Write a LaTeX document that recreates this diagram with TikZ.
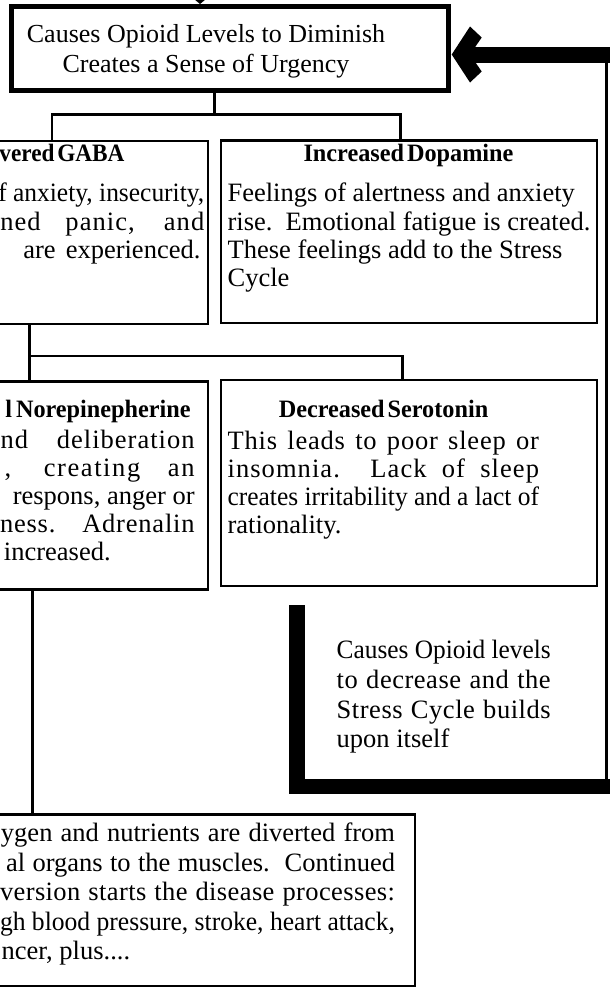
\documentclass[tikz,border=0pt]{standalone}
\usepackage{fontspec}
\setmainfont{Liberation Serif}
\usepackage{graphicx}
\newdimen\fitwd
\newcommand\fitline[2]{\setbox0\hbox{#2}\fitwd=\wd0\relax
  \ifdim\fitwd>#1\relax
    \pgfmathsetmacro\fitfac{#1/\fitwd}\scalebox{\fitfac}[1]{#2}%
  \else\makebox[#1][s]{#2}\fi}
\newcommand\condense[2]{\scalebox{#1}[1]{#2}}
\tikzset{
  tbox/.style={draw, line width=2.6pt, outer sep=0pt, inner sep=0pt},
  topbox/.style={draw, line width=5pt, outer sep=0pt, inner sep=0pt},
  conn/.style={line width=2.6pt},
  heavy/.style={line width=16pt},
  body/.style={inner sep=0pt, outer sep=0pt, font=\fontsize{26.5}{30}\selectfont},
  lsbody/.style={inner sep=0pt, outer sep=0pt, font=\fontsize{26.5}{30}\selectfont\addfontfeatures{LetterSpace=#1}},
  toptext/.style={inner sep=0pt, outer sep=0pt, font=\fontsize{26}{30}\selectfont},
  head/.style={inner sep=0pt, outer sep=0pt, font=\bfseries\fontsize{25}{30}\selectfont},
}
\begin{document}
\begin{tikzpicture}[x=1pt,y=-1pt]
\path[use as bounding box] (0,0) rectangle (610,988);
\clip (0,0) rectangle (610,988);
\fill[white] (0,0) rectangle (610,988);

% boxes
\node[topbox, minimum width=437pt, minimum height=84pt, anchor=north west] (top) at (11.5,6) {};
\node[tbox, minimum width=358pt, minimum height=183pt, anchor=north east] (gaba) at (208,141) {};
\node[tbox, minimum width=376pt, minimum height=182.5pt, anchor=north west] (dopa) at (221,140.5) {};
\node[tbox, minimum width=358pt, minimum height=207.5pt, anchor=north east] (nore) at (208,381.7) {};
\node[tbox, minimum width=376pt, minimum height=206pt, anchor=north west] (sero) at (221,380) {};
\node[tbox, minimum width=565pt, minimum height=171.5pt, anchor=north east] (bott) at (415,814.5) {};

% top box text
\node[toptext, anchor=base] (t1) at (206,42) {Causes Opioid Levels to Diminish};
\node[toptext, anchor=base] (t2) at (206,72) {Creates a Sense of Urgency};

% GABA
\node[head, anchor=base east] (g1) at (124.5,161.7) {\condense{0.93}{vered\hspace{3pt}GABA}};
\node[body, anchor=base east] (g2) at (204.3,201) {\fitline{206pt}{f anxiety, insecurity,}};
\node[lsbody=4, anchor=base east] (g3) at (204.3,230) {\fitline{204pt}{ned panic, and}};
\node[body, anchor=base east] (g4) at (200.4,258.3) {\fitline{177pt}{are experienced.}};

% Dopamine
\node[head, anchor=base] (d1) at (408.5,161.7) {\condense{0.97}{Increased\hspace{3pt}Dopamine}};
\node[body, anchor=base west] (d2) at (227.6,201) {Feelings of alertness and anxiety};
\node[body, anchor=base west] (d3) at (227.6,230) {rise.\ \ Emotional fatigue is created.};
\node[body, anchor=base west] (d4) at (227.6,258.3) {These feelings add to the Stress};
\node[body, anchor=base west] (d5) at (227.6,286.7) {Cycle};

% Norepinephrine
\node[head, anchor=base east] (n1) at (190.7,417.3) {\condense{0.97}{l\hspace{4pt}Norepinepherine}};
\node[lsbody=3.8, anchor=base east] (n2) at (194.6,448) {\fitline{194pt}{nd deliberation}};
\node[lsbody=6, anchor=base east] (n3) at (194.6,476) {\fitline{190pt}{, creating an}};
\node[body, anchor=base east] (n4) at (194.6,504) {respons, anger or};
\node[lsbody=3, anchor=base east] (n5) at (194.6,532) {\fitline{194.6pt}{ness.\ \ Adrenalin}};
\node[body, anchor=base west] (n6) at (4,560) {increased.};

% Serotonin
\node[head, anchor=base] (s1) at (383.5,417.3) {\condense{0.97}{Decreased\hspace{3pt}Serotonin}};
\node[lsbody=3, anchor=base west] (s2) at (227.6,449) {\fitline{311.4pt}{This leads to poor sleep or}};
\node[lsbody=4, anchor=base west] (s3) at (227.6,477) {\fitline{311.4pt}{insomnia.\ \ Lack of sleep}};
\node[body, anchor=base west] (s4) at (227.6,505) {\fitline{311.4pt}{creates irritability and a lact of}};
\node[body, anchor=base west] (s5) at (227.6,533) {rationality.};

% loop note
\node[body, anchor=base west] (b1) at (336.7,658) {\fitline{214pt}{Causes Opioid levels}};
\node[lsbody=2, anchor=base west] (b2) at (336.7,688.5) {\fitline{214pt}{to decrease and the}};
\node[lsbody=2, anchor=base west] (b3) at (336.7,718) {\fitline{214pt}{Stress Cycle builds}};
\node[body, anchor=base west] (b4) at (336.7,747.5) {upon itself};

% bottom box
\node[body, anchor=base east] (bt1) at (395,841) {\fitline{394pt}{ygen and nutrients are diverted from}};
\node[body, anchor=base east] (bt2) at (395,871) {\fitline{389pt}{al organs to the muscles.\ \ Continued}};
\node[lsbody=1.5, anchor=base east] (bt3) at (395,900) {\fitline{395pt}{version starts the disease processes:}};
\node[body, anchor=base east] (bt4) at (395,930) {\fitline{395pt}{gh blood pressure, stroke, heart attack,}};
\node[body, anchor=base west] (bt5) at (1.7,959) {ncer, plus....};

% connectors
\coordinate (j1) at (214.5,114.5);
\coordinate (xa) at (52,0);
\coordinate (xb) at (400.7,0);
\draw[conn] (top.south -| j1) -- (j1);
\draw[conn] (gaba.north -| xa) |- (j1) -| (dopa.north -| xb);
\coordinate (j2) at (29.3,356);
\coordinate (xc) at (402.7,0);
\draw[conn] (gaba.south -| j2) -- (nore.north -| j2);
\draw[conn] (j2) -| (sero.north -| xc);
\coordinate (xd) at (32.3,0);
\draw[conn] (nore.south -| xd) -- (bott.north -| xd);

% feedback loop
\coordinate (bk1) at (297.2,605);
\coordinate (bk2) at (620,786.5);
\coordinate (rx) at (606.5,0);
\coordinate (ab) at (620,54.5);
\draw[line width=15.7pt] (bk1) |- (bk2);
\draw[line width=3pt] (rx |- bk2) -- (rx |- ab);
\draw[heavy] (ab) -- ([xshift=20pt]top.east |- ab);
\coordinate (tip) at ([xshift=3.2pt]top.east |- ab);
\fill (tip) -- +(18.3,-28) -- +(30,-17) -- +(18.3,0) -- +(30,17) -- +(18.3,28) -- cycle;
% partial arrow tip at top edge
\fill (194,-1) -- (206,-1) -- (200,4) -- cycle;
\end{tikzpicture}
\end{document}
